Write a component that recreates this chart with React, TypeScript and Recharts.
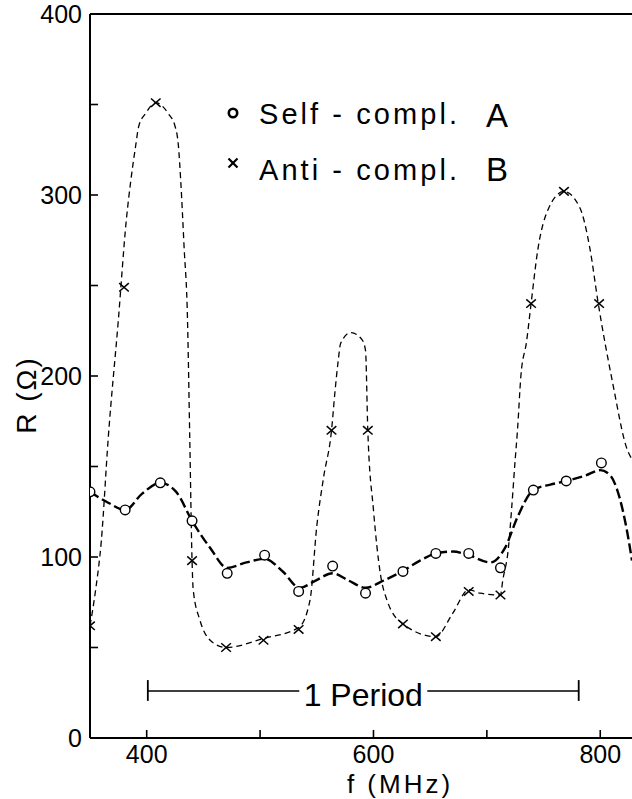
import React from "react";
import { ComposedChart, Line, Scatter, XAxis, YAxis, ReferenceLine, Legend } from "recharts";

const FONT = '"Liberation Sans", Arial, Helvetica, sans-serif';

// measured points, A = self-complementary (circles)
const freqA = [350, 381, 412, 440, 471, 504, 534, 564, 593, 626, 655, 684, 712, 741, 770, 801];
const resA = [136, 126, 141, 120, 91, 101, 81, 95, 80, 92, 102, 102, 94, 137, 142, 152];

// measured points, B = anti-complementary (crosses)
const freqB = [350, 380, 408, 440, 470, 503, 534, 563, 595, 626, 655, 684, 712, 739, 768, 799];
const resB = [62, 249, 351, 98, 50, 54, 60, 170, 170, 63, 56, 81, 79, 240, 302, 240];

// hand drawn curve through A
const curveAf = [350, 366, 381, 396, 412, 426, 440, 456, 471, 488, 504, 520, 535, 549, 564, 578, 593, 609, 625, 641, 655, 670, 684, 703, 716, 727, 741, 756, 770, 787, 800, 809, 815, 824, 828];
const curveAr = [136, 130, 126, 135, 141, 136, 120, 105, 94, 97, 99, 92, 83, 87, 91, 87, 83, 87, 92, 98, 102, 103, 101, 97, 105, 122, 137, 140, 142, 145, 148, 145, 137, 113, 98];

// hand drawn curve through B
const curveBf = [350, 355, 360, 366, 375, 382, 386, 390, 393, 399, 408, 419, 425, 428, 430, 433, 436, 438, 440, 441, 447, 456, 470, 503, 534, 544, 550, 556, 563, 566, 569, 571, 580, 590, 593, 595, 600, 606, 612, 626, 655, 670, 684, 694, 712, 714, 719, 722, 725, 727, 730, 735, 739, 745, 754, 768, 782, 791, 798, 811, 824, 828];
const curveBr = [62, 82, 109, 165, 231, 286, 308, 326, 338, 345, 351, 345, 338, 327, 308, 271, 231, 165, 98, 82, 65, 54, 50, 55, 61, 76, 117, 144, 170, 191, 209, 218, 224, 220, 214, 170, 126, 91, 76, 63, 56, 69, 82, 80, 79, 87, 105, 128, 154, 170, 200, 219, 240, 270, 292, 302, 293, 270, 241, 196, 159, 154];

const xTicks = [400, 500, 600, 700, 800];
const xLabeled = [400, 600, 800];
const yTicks = [0, 50, 100, 150, 200, 250, 300, 350, 400];
const yLabeled = [0, 100, 200, 300, 400];

// "1 Period" bracket
const periodFrom = 401;
const periodTo = 781;
const periodLevel = 26;

const legendItems = [
  { name: "Self - compl.", tag: "A", marker: "ring" },
  { name: "Anti - compl.", tag: "B", marker: "cross" },
];

const rows = (fs: number[], rs: number[]) => fs.map((f, i) => ({ f, r: rs[i] }));

const pointsA = rows(freqA, resA);
const pointsB = rows(freqB, resB);
const lineA = rows(curveAf, curveAr);
const lineB = rows(curveBf, curveBr);

const Ring = (p: any) => (
  <circle cx={p.cx} cy={p.cy} r={4.8} fill="#fff" stroke="#000" strokeWidth={1.4} />
);

const Cross = (p: any) => {
  const w = 4.8;
  const h = 4.2;
  return (
    <g stroke="#000" strokeWidth={1.5}>
      <line x1={p.cx - w} y1={p.cy - h} x2={p.cx + w} y2={p.cy + h} />
      <line x1={p.cx - w} y1={p.cy + h} x2={p.cx + w} y2={p.cy - h} />
    </g>
  );
};

const XTick = ({ x, y, payload }: any) => (
  <g>
    <line x1={x} y1={y} x2={x} y2={y - 8} stroke="#000" strokeWidth={1.6} />
    {xLabeled.includes(payload.value) && (
      <text x={x} y={y + 25} textAnchor="middle" fontSize={25} fontFamily={FONT} fill="#000">
        {payload.value}
      </text>
    )}
  </g>
);

const YTick = ({ x, y, payload }: any) => (
  <g>
    <line x1={x} y1={y} x2={x + 8} y2={y} stroke="#000" strokeWidth={1.6} />
    {yLabeled.includes(payload.value) && (
      <text x={x - 8} y={y} dy="0.36em" textAnchor="end" fontSize={25} fontFamily={FONT} fill="#000">
        {payload.value}
      </text>
    )}
  </g>
);

const XTitle = ({ viewBox }: any) => (
  <text x={viewBox.x + 310} y={viewBox.y + 55} textAnchor="middle" fontSize={26} letterSpacing={3} fontFamily={FONT} fill="#000">
    f (MHz)
  </text>
);

const YTitle = ({ viewBox }: any) => {
  const x = viewBox.x + 36;
  const y = viewBox.y + 381;
  return (
    <text x={x} y={y} transform={`rotate(-90 ${x} ${y})`} textAnchor="middle" fontSize={28} letterSpacing={2} fontFamily={FONT} fill="#000">
      R (Ω)
    </text>
  );
};

const PeriodLabel = ({ viewBox }: any) => {
  const cx = viewBox.x + viewBox.width / 2;
  const cy = viewBox.y;
  return (
    <g>
      <rect x={cx - 64} y={cy - 16} width={128} height={32} fill="#fff" />
      <text x={cx} y={cy + 15} textAnchor="middle" fontSize={32} fontFamily={FONT} fill="#000">
        1 Period
      </text>
    </g>
  );
};

const LegendBox = () => (
  <svg width={632} height={200} style={{ display: "block" }}>
    {legendItems.map((it, i) => {
      const my = 113 + i * 50;
      const base = 124 + i * 56;
      return (
        <g key={it.name}>
          {it.marker === "ring" ? (
            <circle cx={233} cy={my} r={4.2} fill="none" stroke="#000" strokeWidth={2.6} />
          ) : (
            <g stroke="#000" strokeWidth={2.2}>
              <line x1={228.5} y1={my - 4.5} x2={237.5} y2={my + 4.5} />
              <line x1={228.5} y1={my + 4.5} x2={237.5} y2={my - 4.5} />
            </g>
          )}
          <text x={259} y={base} fontSize={29} fontFamily={FONT} textLength={198} lengthAdjust="spacing" fill="#000">
            {it.name}
          </text>
          <text x={486} y={base + 3 - i * 2} fontSize={33} fontFamily={FONT} fill="#000">
            {it.tag}
          </text>
        </g>
      );
    })}
  </svg>
);

export default function App() {
  return (
    <div style={{ position: "absolute", left: 0, top: 0, width: 632, height: 799, background: "#fff" }}>
      <ComposedChart width={632} height={799} margin={{ top: 14, right: 0, bottom: 0, left: 0 }}>
        <XAxis
          type="number"
          dataKey="f"
          domain={[350, 828]}
          allowDataOverflow
          ticks={xTicks}
          interval={0}
          height={61}
          tickSize={0}
          tickMargin={0}
          tickLine={false}
          axisLine={{ stroke: "#000", strokeWidth: 2 }}
          tick={<XTick />}
          label={<XTitle />}
        />
        <YAxis
          type="number"
          domain={[0, 400]}
          allowDataOverflow
          ticks={yTicks}
          interval={0}
          width={90}
          tickSize={0}
          tickMargin={0}
          tickLine={false}
          axisLine={{ stroke: "#000", strokeWidth: 2 }}
          tick={<YTick />}
          label={<YTitle />}
        />
        <ReferenceLine y={400} stroke="#000" strokeWidth={2} />
        <ReferenceLine
          segment={[{ x: periodFrom, y: periodLevel }, { x: periodTo, y: periodLevel }]}
          stroke="#000"
          strokeWidth={1.5}
          label={<PeriodLabel />}
        />
        <ReferenceLine segment={[{ x: periodFrom, y: 20.5 }, { x: periodFrom, y: 32 }]} stroke="#000" strokeWidth={1.8} />
        <ReferenceLine segment={[{ x: periodTo, y: 20.5 }, { x: periodTo, y: 32 }]} stroke="#000" strokeWidth={1.8} />
        <Line
          data={lineB}
          dataKey="r"
          type="monotone"
          stroke="#000"
          strokeWidth={1.3}
          strokeDasharray="6 4"
          dot={false}
          activeDot={false}
          legendType="none"
          isAnimationActive={false}
        />
        <Line
          data={lineA}
          dataKey="r"
          type="monotone"
          stroke="#000"
          strokeWidth={2.4}
          strokeDasharray="10 4"
          dot={false}
          activeDot={false}
          legendType="none"
          isAnimationActive={false}
        />
        <Scatter data={pointsB} dataKey="r" name="Anti - compl." shape={<Cross />} isAnimationActive={false} />
        <Scatter data={pointsA} dataKey="r" name="Self - compl." shape={<Ring />} isAnimationActive={false} />
        <Legend
          layout="horizontal"
          verticalAlign="middle"
          align="center"
          content={<LegendBox />}
          wrapperStyle={{ left: 0, top: 0, width: 632, height: 200 }}
        />
      </ComposedChart>
    </div>
  );
}
